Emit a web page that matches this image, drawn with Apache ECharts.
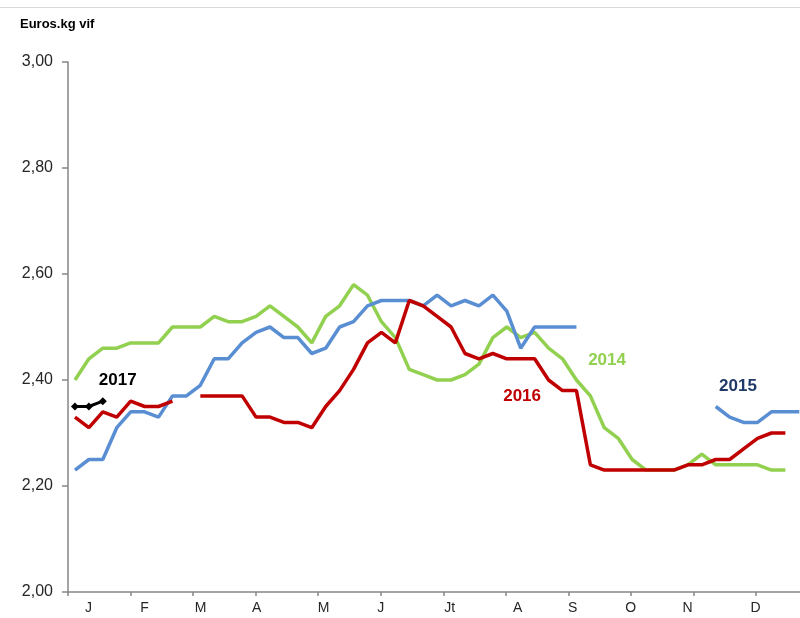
<!DOCTYPE html>
<html>
<head>
<meta charset="utf-8">
<script src="https://cdn.jsdelivr.net/npm/echarts@6/dist/echarts.min.js"></script>
<style>
  html, body { margin: 0; padding: 0; background: #ffffff; }
  #chart { width: 800px; height: 618px; }
</style>
</head>
<body>
<div id="chart"></div>
<script>
// Weekly live-weight price, euros per kg, one line per year (week 1 = index 0)
const monthLabels = ['J', 'F', 'M', 'A', 'M', 'J', 'Jt', 'A', 'S', 'O', 'N', 'D'];
const yTicks = [2.0, 2.2, 2.4, 2.6, 2.8, 3.0];

const y2014 = [2.40, 2.44, 2.46, 2.46, 2.47, 2.47, 2.47, 2.50, 2.50, 2.50,
               2.52, 2.51, 2.51, 2.52, 2.54, 2.52, 2.50, 2.47, 2.52, 2.54,
               2.58, 2.56, 2.51, 2.48, 2.42, 2.41, 2.40, 2.40, 2.41, 2.43,
               2.48, 2.50, 2.48, 2.49, 2.46, 2.44, 2.40, 2.37, 2.31, 2.29,
               2.25, 2.23, 2.23, 2.23, 2.24, 2.26, 2.24, 2.24, 2.24, 2.24,
               2.23, 2.23];

const y2015 = [2.23, 2.25, 2.25, 2.31, 2.34, 2.34, 2.33, 2.37, 2.37, 2.39,
               2.44, 2.44, 2.47, 2.49, 2.50, 2.48, 2.48, 2.45, 2.46, 2.50,
               2.51, 2.54, 2.55, 2.55, 2.55, 2.54, 2.56, 2.54, 2.55, 2.54,
               2.56, 2.53, 2.46, 2.50, 2.50, 2.50, 2.50, null, null, null,
               null, null, null, null, null, null, 2.35, 2.33, 2.32, 2.32,
               2.34, 2.34, 2.34];

const y2016 = [2.33, 2.31, 2.34, 2.33, 2.36, 2.35, 2.35, 2.36, null, 2.37,
               2.37, 2.37, 2.37, 2.33, 2.33, 2.32, 2.32, 2.31, 2.35, 2.38,
               2.42, 2.47, 2.49, 2.47, 2.55, 2.54, 2.52, 2.50, 2.45, 2.44,
               2.45, 2.44, 2.44, 2.44, 2.40, 2.38, 2.38, 2.24, 2.23, 2.23,
               2.23, 2.23, 2.23, 2.23, 2.24, 2.24, 2.25, 2.25, 2.27, 2.29,
               2.30, 2.30];

const y2017 = [2.35, 2.35, 2.36];

// Where month boundaries and month names sit along the week axis
const monthTickAt = [-0.5, 3.99, 8.48, 12.97, 17.46, 21.95, 26.44, 30.93, 35.42, 39.91, 44.4, 48.89];
const monthLabelAt = [0.98, 5.0, 9.02, 13.04, 17.85, 21.95, 26.9, 31.78, 35.73, 39.89, 43.98, 48.86];

const toPairs = arr => arr.map((v, i) => [i, v]);

const chart = echarts.init(document.getElementById('chart'), null, { renderer: 'canvas' });

const axisGrey = '#868686';
const font = 'Liberation Sans, Arial, sans-serif';

const series = [
  { name: '2014', data: y2014, color: '#92D050' },
  { name: '2015', data: y2015, color: '#5A8ED3' },
  { name: '2016', data: y2016, color: '#C00000' }
].map(s => ({
  name: s.name,
  type: 'line',
  data: toPairs(s.data),
  showSymbol: false,
  connectNulls: false,
  clip: false,
  lineStyle: { color: s.color, width: 3.5 },
  itemStyle: { color: s.color },
  emphasis: { disabled: true },
  silent: true
}));

series.push({
  name: '2017',
  type: 'line',
  data: toPairs(y2017),
  showSymbol: true,
  symbol: 'diamond',
  symbolSize: 8,
  clip: false,
  lineStyle: { color: '#000000', width: 3 },
  itemStyle: { color: '#000000' },
  emphasis: { disabled: true },
  silent: true
});

chart.setOption({
  animation: false,
  backgroundColor: '#ffffff',
  title: {
    text: 'Euros.kg vif',
    left: 20,
    top: 18,
    padding: 0,
    textStyle: { fontFamily: font, fontSize: 13, fontWeight: 'bold', color: '#000000' }
  },
  grid: { left: 68, right: 0, top: 62, bottom: 26, containLabel: false },
  xAxis: {
    type: 'value',
    min: -0.5,
    max: 52.05,
    axisLine: { show: true, onZero: false, lineStyle: { color: axisGrey, width: 1.5 } },
    axisTick: { show: true, customValues: monthTickAt, length: 4, lineStyle: { color: axisGrey, width: 1.5 } },
    axisLabel: {
      customValues: monthLabelAt,
      margin: 9,
      fontFamily: font,
      fontSize: 14,
      color: '#262626',
      formatter: v => {
        const k = monthLabelAt.findIndex(p => Math.abs(p - v) < 1e-6);
        return k >= 0 ? monthLabels[k] : '';
      }
    },
    splitLine: { show: false }
  },
  yAxis: {
    type: 'value',
    min: yTicks[0],
    max: yTicks[yTicks.length - 1],
    interval: 0.2,
    axisLine: { show: true, onZero: false, lineStyle: { color: axisGrey, width: 1.5 } },
    axisTick: { show: true, length: 6, lineStyle: { color: axisGrey, width: 1.5 } },
    axisLabel: {
      margin: 15,
      fontFamily: font,
      fontSize: 16,
      color: '#262626',
      formatter: v => v.toFixed(2).replace('.', ',')
    },
    splitLine: { show: false }
  },
  series: series
});

// Year captions placed next to their lines, anchored in data coordinates
const captions = [
  { text: '2017', at: [3.07, 2.40], color: '#000000' },
  { text: '2016', at: [32.1, 2.37], color: '#C00000' },
  { text: '2014', at: [38.2, 2.438], color: '#92D050' },
  { text: '2015', at: [47.6, 2.389], color: '#1F3A68' }
];

const graphics = captions.map(c => {
  const p = chart.convertToPixel({ gridIndex: 0 }, c.at);
  return {
    type: 'text',
    x: p[0],
    y: p[1],
    style: {
      text: c.text,
      fill: c.color,
      font: 'bold 17px "Liberation Sans", Arial, sans-serif',
      align: 'center',
      verticalAlign: 'middle'
    }
  };
});

// thin frame edge along the top
graphics.push({
  type: 'line',
  shape: { x1: 0, y1: 7.5, x2: 800, y2: 7.5 },
  style: { stroke: '#d9d9d9', lineWidth: 1 }
});

chart.setOption({ graphic: graphics });
</script>
</body>
</html>
